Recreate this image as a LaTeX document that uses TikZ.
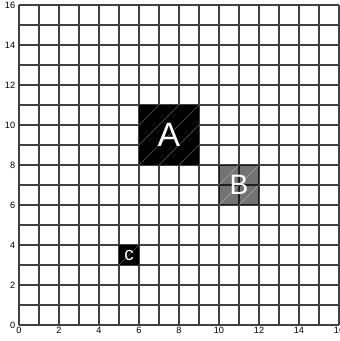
\documentclass[tikz,border=0pt]{standalone}
\usepackage{fontspec}
\setmainfont{Liberation Sans}
\begin{document}
\begin{tikzpicture}[x=1cm,y=1cm,
  gridline/.style={line width=1.6pt,draw=black!75},
  hatch/.style={line width=0.6pt,draw=white,draw opacity=0.35},
  ticklbl/.style={font=\fontsize{13}{14}\selectfont,text=black,inner sep=1pt},
  biglbl/.style={text=white,inner sep=0pt}]
\useasboundingbox (-0.95,-0.8) rectangle (16.05,16.25);
% grid
\draw[gridline] (0,0) grid (16,16);
% filled squares
\fill[black] (6,8) rectangle (9,11);
\fill[black,fill opacity=0.55] (10,6) rectangle (12,8);
\fill[black] (5,3) rectangle (6,4);
% hatch
\foreach \x/\y/\w in {6/8/3, 10/6/2, 5/3/1} {
  \begin{scope}
  \clip (\x,\y) rectangle ++(\w,\w);
  \foreach \k in {-3,...,3} \draw[hatch] (\x+\k,\y) -- ++(\w,\w);
  \end{scope}
}
% labels
\node[biglbl,font=\fontsize{48}{50}\selectfont] (A) at (7.5,9.5) {A};
\node[biglbl,font=\fontsize{40}{42}\selectfont] (B) at (11,7) {B};
\node[biglbl,font=\fontsize{27}{29}\selectfont] (C) at (5.5,3.5) {c};
\foreach \v in {0,2,...,16} {
  \node[ticklbl,anchor=north] (x\v) at (\v,-0.08) {\v};
  \node[ticklbl,anchor=east] (y\v) at (-0.15,\v) {\v};
}
\end{tikzpicture}
\end{document}
